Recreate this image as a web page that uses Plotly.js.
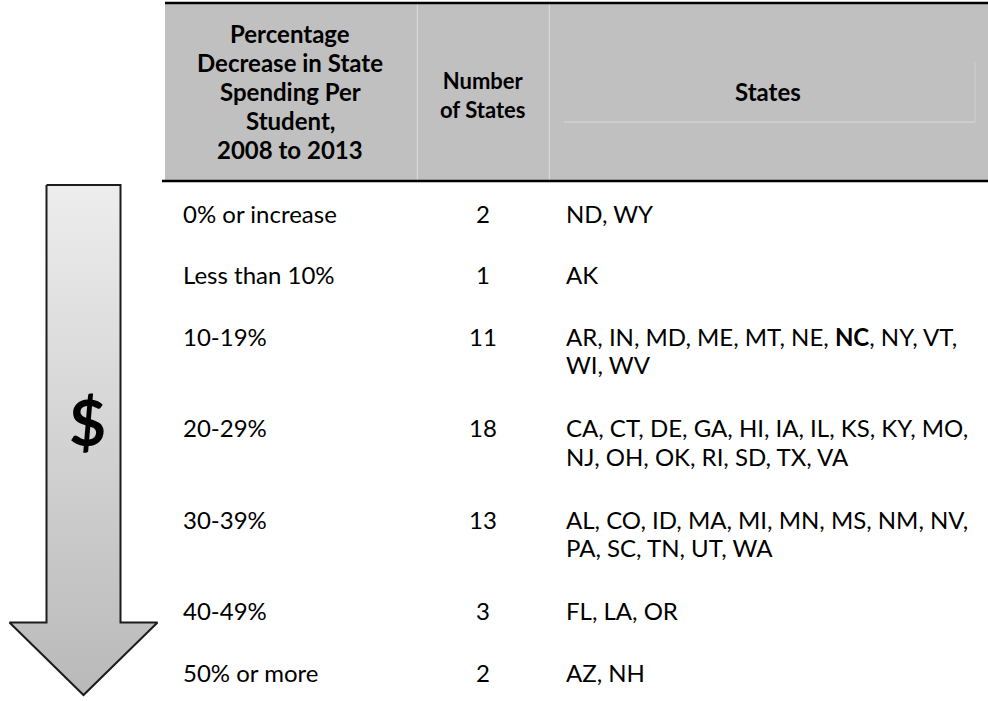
<!DOCTYPE html>
<html>
<head>
<meta charset="utf-8">
<script src="https://cdn.plot.ly/plotly-3.0.1.min.js"></script>
<style>
  html, body { margin: 0; padding: 0; background: #ffffff; }
  #chart { width: 988px; height: 701px; }
</style>
</head>
<body>
<div id="chart"></div>
<script>
// ---------------- DATA ----------------
const headerCol1 = ['Percentage', 'Decrease in State', 'Spending Per', 'Student,', '2008 to 2013'];
const headerCol2 = ['Number', 'of States'];
const headerCol3 = ['States'];

const categories = ['0% or increase', 'Less than 10%', '10-19%', '20-29%', '30-39%', '40-49%', '50% or more'];
const numStates = [2, 1, 11, 18, 13, 3, 2];
const stateLists = [
  ['ND', 'WY'],
  ['AK'],
  ['AR', 'IN', 'MD', 'ME', 'MT', 'NE', 'NC', 'NY', 'VT', 'WI', 'WV'],
  ['CA', 'CT', 'DE', 'GA', 'HI', 'IA', 'IL', 'KS', 'KY', 'MO', 'NJ', 'OH', 'OK', 'RI', 'SD', 'TX', 'VA'],
  ['AL', 'CO', 'ID', 'MA', 'MI', 'MN', 'MS', 'NM', 'NV', 'PA', 'SC', 'TN', 'UT', 'WA'],
  ['FL', 'LA', 'OR'],
  ['AZ', 'NH']
];
const highlightedStates = ['NC'];
const arrowSymbol = '$';

// ---------------- STYLE / LAYOUT ----------------
const W = 988, H = 701;
const FONT = 'Lato, "Open Sans", sans-serif';
const bodySize = 24, headSize = 24, head2Size = 22;
const textColor = '#000000';
const headerFill = '#c0c0c0';

const headerBox = { x0: 165, x1: 988, y0: 3, y1: 181 };
const col1X = 181, col2X = 483, col3X = 564, col3MaxW = 413;
const head1X = 290, head2X = 482, head3X = 768;
const head1Y0 = 33.5, head1Gap = 29;
const head2Y = 95;
const head3Y = 91.7;
const firstRowY = 213, rowAdvance = 61.5, extraLineAdvance = 30, lineGap = 28.5;

// wrap states into lines by measured width
const cv = document.createElement('canvas');
const ctx = cv.getContext('2d');
function tokW(t, bold) {
  ctx.font = (bold ? 'bold ' : '') + bodySize + 'px Lato';
  return ctx.measureText(t).width;
}
function wrapStates(list) {
  const lines = [];
  let cur = [], curW = 0;
  const spaceW = tokW(' ', false);
  list.forEach((s, i) => {
    const isB = highlightedStates.includes(s);
    const comma = i < list.length - 1 ? ',' : '';
    const w = tokW(s, isB) + tokW(comma, false);
    const html = (isB ? '<b>' + s + '</b>' : s) + comma;
    const addW = cur.length ? spaceW + w : w;
    if (cur.length && curW + addW > col3MaxW) {
      lines.push(cur.join(' '));
      cur = [html]; curW = w;
    } else {
      cur.push(html); curW += addW;
    }
  });
  if (cur.length) lines.push(cur.join(' '));
  return lines;
}

const annotations = [];
function addText(x, y, text, anchor, bold, size) {
  annotations.push({
    xref: 'x', yref: 'y', x: x, y: y, text: bold ? '<b>' + text + '</b>' : text,
    showarrow: false, xanchor: anchor, yanchor: 'middle', align: anchor === 'left' ? 'left' : 'center',
    font: { family: FONT, size: size, color: textColor }
  });
}

// header text
headerCol1.forEach((t, i) => addText(head1X, head1Y0 + i * head1Gap, t, 'center', true, headSize));
addText(head2X, head2Y, headerCol2.map(t => '<b>' + t + '</b>').join('<br>'), 'center', false, head2Size);
headerCol3.forEach((t) => addText(head3X, head3Y, t, 'center', true, headSize));

// body rows
let rowY = firstRowY;
categories.forEach((cat, i) => {
  const lines = wrapStates(stateLists[i]);
  addText(col1X, rowY, cat, 'left', false, bodySize);
  addText(col2X, rowY, String(numStates[i]), 'center', false, bodySize);
  lines.forEach((ln, k) => addText(col3X, rowY + k * lineGap, ln, 'left', false, bodySize));
  rowY += rowAdvance + (lines.length - 1) * extraLineAdvance;
});

// arrow geometry
const arrow = { cx: 83.5, shaftHalf: 37, headHalf: 74, top: 185, headY: 622.5, tip: 695 };
const ax = [arrow.cx - arrow.shaftHalf, arrow.cx + arrow.shaftHalf, arrow.cx + arrow.shaftHalf,
            arrow.cx + arrow.headHalf, arrow.cx, arrow.cx - arrow.headHalf,
            arrow.cx - arrow.shaftHalf, arrow.cx - arrow.shaftHalf];
const ay = [arrow.top, arrow.top, arrow.headY, arrow.headY, arrow.tip, arrow.headY, arrow.headY, arrow.top];

annotations.push({
  xref: 'x', yref: 'y', x: 87.5, y: 421, text: '<b>' + arrowSymbol + '</b>',
  showarrow: false, xanchor: 'center', yanchor: 'middle',
  font: { family: FONT, size: 64, color: '#000000' }
});

const shapes = [
  { type: 'rect', xref: 'x', yref: 'y', x0: headerBox.x0, x1: headerBox.x1, y0: headerBox.y0, y1: headerBox.y1,
    fillcolor: headerFill, line: { width: 0 }, layer: 'below' },
  { type: 'line', xref: 'x', yref: 'y', x0: 417.3, x1: 417.3, y0: headerBox.y0, y1: headerBox.y1, line: { color: '#dedede', width: 1 } },
  { type: 'line', xref: 'x', yref: 'y', x0: 549.3, x1: 549.3, y0: headerBox.y0, y1: headerBox.y1, line: { color: '#dedede', width: 1 } },
  { type: 'line', xref: 'x', yref: 'y', x0: 564, x1: 975, y0: 122, y1: 122, line: { color: '#d9d9d9', width: 1 } },
  { type: 'line', xref: 'x', yref: 'y', x0: 975, x1: 975, y0: 62, y1: 122, line: { color: '#d0d0d0', width: 1 } },
  { type: 'line', xref: 'x', yref: 'y', x0: headerBox.x0, x1: headerBox.x1, y0: headerBox.y0, y1: headerBox.y0, line: { color: '#000000', width: 2.5 } },
  { type: 'line', xref: 'x', yref: 'y', x0: 162, x1: headerBox.x1, y0: headerBox.y1, y1: headerBox.y1, line: { color: '#000000', width: 2.5 } }
];

const traces = [{
  type: 'scatter', mode: 'lines', x: ax, y: ay, fill: 'toself',
  fillgradient: { type: 'vertical', colorscale: [[0, '#b9b9b9'], [1, '#ededed']] },
  line: { color: '#1c1c1c', width: 2 }, hoverinfo: 'skip', showlegend: false
}];

const layout = {
  width: W, height: H,
  margin: { l: 0, r: 0, t: 0, b: 0, pad: 0 },
  paper_bgcolor: '#ffffff', plot_bgcolor: '#ffffff',
  xaxis: { range: [0, W], visible: false, fixedrange: true },
  yaxis: { range: [H, 0], visible: false, fixedrange: true },
  showlegend: false,
  shapes: shapes,
  annotations: annotations
};

Plotly.newPlot('chart', traces, layout, { staticPlot: true, displayModeBar: false });
</script>
</body>
</html>
